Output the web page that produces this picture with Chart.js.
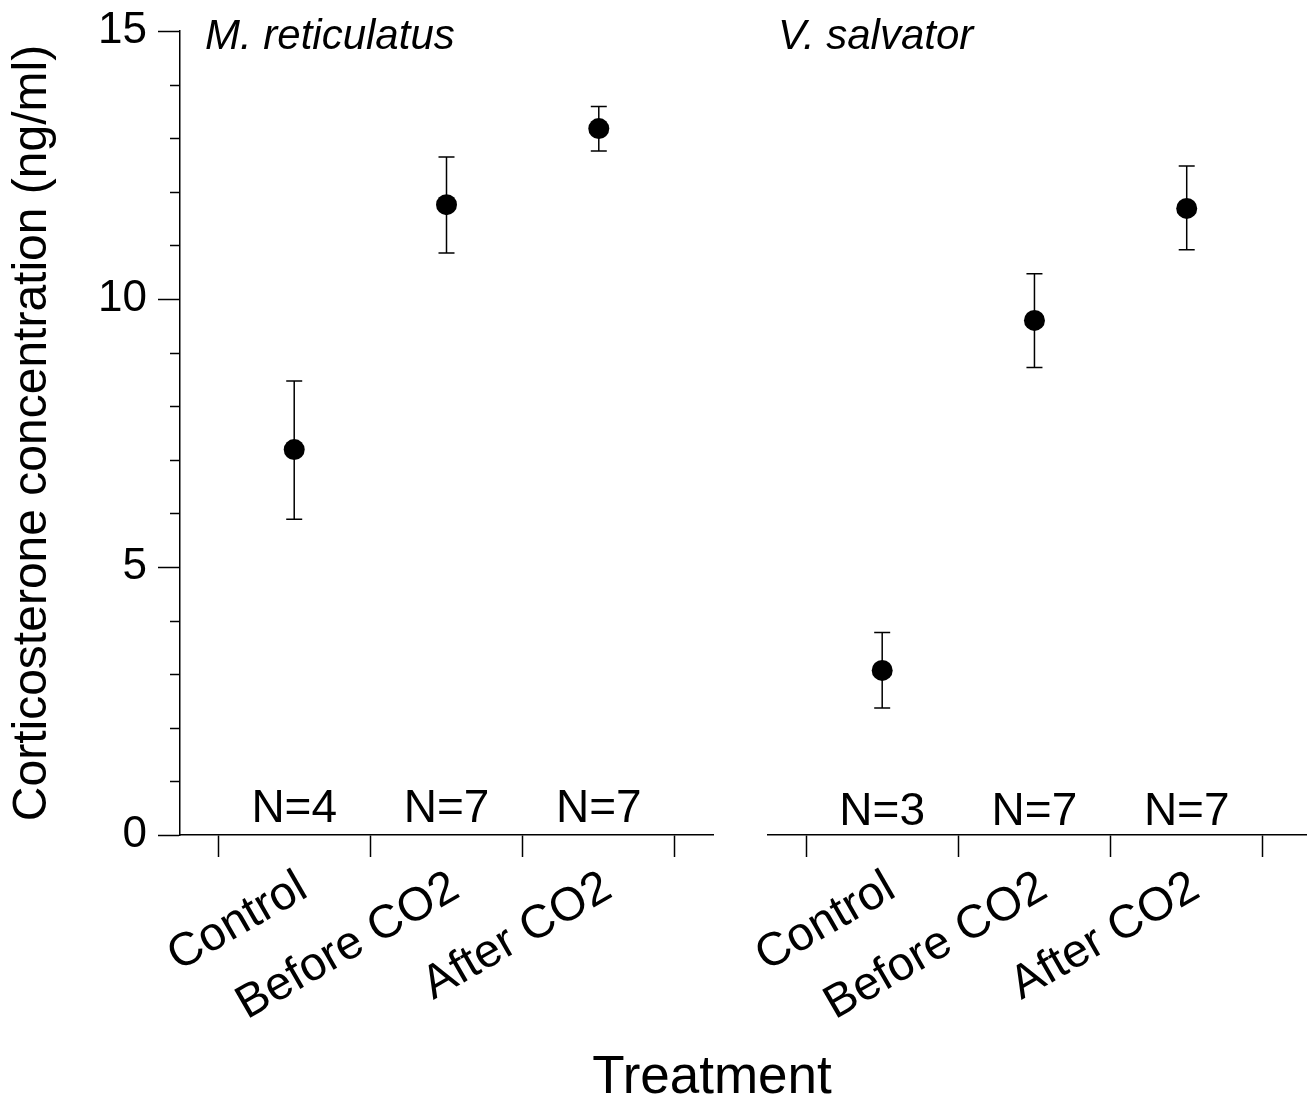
<!DOCTYPE html>
<html>
<head>
<meta charset="utf-8">
<title>Corticosterone concentration</title>
<script src="https://cdn.jsdelivr.net/npm/chart.js@4.4.1/dist/chart.umd.min.js"></script>
<style>
  html, body { margin: 0; padding: 0; background: #fff; overflow: hidden; }
  #wrap { position: relative; width: 1307px; height: 1097px; }
  canvas { position: absolute; top: 0; }
  #left { left: 0; }
  #right { left: 740px; }
  #xtitle {
    position: absolute; left: 512px; width: 400px; top: 1048px;
    text-align: center; color: #000;
    font: 53px/53px "Liberation Sans", Arial, sans-serif;
  }
</style>
</head>
<body>
<div id="wrap">
  <canvas id="left" width="740" height="1097"></canvas>
  <canvas id="right" width="567" height="1097"></canvas>
  <div id="xtitle">Treatment</div>
</div>
<script>
// данные
const categories = ['Control', 'Before CO2', 'After CO2'];
const yTickLabels = [0, 5, 10, 15];

// M. reticulatus
const mretMean = [7.19, 11.76, 13.18];
const mretHi = [8.47, 12.65, 13.59];
const mretLo = [5.89, 10.86, 12.76];
const mretN = [4, 7, 7];

// V. salvator
const vsalMean = [3.07, 9.60, 11.69];
const vsalHi = [3.78, 10.47, 12.48];
const vsalLo = [2.37, 8.72, 10.92];
const vsalN = [3, 7, 7];

const FONT = '"Liberation Sans", Arial, Helvetica, sans-serif';

// усы, малые засечки, подписи N и названия видов
const panelExtras = {
    id: 'panelExtras',
    beforeDatasetsDraw(chart, args, opts) {
        const ctx = chart.ctx;
        const x = chart.scales.x, y = chart.scales.y;
        ctx.save();
        ctx.strokeStyle = '#000';
        ctx.lineWidth = 1.5;
        opts.hi.forEach((h, i) => {
            const px = x.getPixelForValue(i + 0.5);
            const top = y.getPixelForValue(h);
            const bot = y.getPixelForValue(opts.lo[i]);
            ctx.beginPath();
            ctx.moveTo(px, top); ctx.lineTo(px, bot);
            ctx.moveTo(px - 8, top); ctx.lineTo(px + 8, top);
            ctx.moveTo(px - 8, bot); ctx.lineTo(px + 8, bot);
            ctx.stroke();
        });
        ctx.restore();
    },
    afterDraw(chart, args, opts) {
        const ctx = chart.ctx;
        const x = chart.scales.x, y = chart.scales.y;
        const area = chart.chartArea;
        ctx.save();
        ctx.strokeStyle = '#000';
        ctx.lineWidth = 1.5;
        if (opts.minorTicks) {
            for (let v = 0; v <= 15; v++) {
                if (yTickLabels.includes(v)) continue;
                const py = Math.round(y.getPixelForValue(v)) + 0.5;
                ctx.beginPath();
                ctx.moveTo(area.left - 10, py);
                ctx.lineTo(area.left, py);
                ctx.stroke();
            }
        }
        ctx.fillStyle = '#000';
        ctx.textAlign = 'center';
        ctx.textBaseline = 'alphabetic';
        ctx.font = '46px ' + FONT;
        opts.n.forEach((n, i) => {
            ctx.fillText('N=' + n, x.getPixelForValue(i + 0.5), area.bottom - opts.nLift);
        });
        ctx.textAlign = 'left';
        ctx.font = 'italic 42px ' + FONT;
        ctx.fillText(opts.name, area.left + opts.nameOffset, 49);
        ctx.restore();
    }
};

function makePanel(canvasId, cfg) {
    return new Chart(document.getElementById(canvasId), {
        type: 'scatter',
        data: {
            datasets: [{
                data: cfg.mean.map((m, i) => ({ x: i + 0.5, y: m })),
                backgroundColor: '#000',
                borderWidth: 0,
                pointRadius: 10.5,
                pointHoverRadius: 10.5
            }]
        },
        options: {
            responsive: false,
            animation: false,
            devicePixelRatio: 1,
            layout: { padding: cfg.padding, autoPadding: false },
            plugins: {
                legend: { display: false },
                tooltip: { enabled: false },
                panelExtras: {
                    hi: cfg.hi, lo: cfg.lo, n: cfg.n,
                    name: cfg.name, nameOffset: cfg.nameOffset,
                    nLift: cfg.nLift,
                    minorTicks: cfg.showY
                }
            },
            scales: {
                x: {
                    type: 'linear',
                    min: -0.25,
                    max: cfg.xMax,
                    bounds: 'data',
                    afterBuildTicks: s => { s.ticks = categories.map((c, i) => ({ value: i + 0.5 })); },
                    afterFit: s => { s.height = 262; s.paddingLeft = 0; s.paddingRight = 0; },
                    grid: { offset: true, drawOnChartArea: false, tickLength: 22, tickWidth: 1.5, tickColor: '#000' },
                    border: { color: '#000', width: 1.5 },
                    ticks: {
                        autoSkip: false,
                        minRotation: 30,
                        maxRotation: 30,
                        padding: 3,
                        labelOffset: 9,
                        color: '#000',
                        font: { size: 47, family: FONT },
                        callback: (v, i) => categories[i]
                    }
                },
                y: {
                    display: cfg.showY,
                    min: 0,
                    max: 15,
                    afterFit: s => {
                        s.width = cfg.showY ? 180 : 0;
                        s.paddingTop = 0;
                        s.paddingBottom = 0;
                    },
                    grid: {
                        drawOnChartArea: false,
                        tickLength: 22,
                        tickWidth: 1.5,
                        tickColor: c => yTickLabels.includes(c.tick.value) ? '#000' : 'rgba(0,0,0,0)'
                    },
                    border: { color: '#000', width: 1.5 },
                    ticks: {
                        stepSize: 1,
                        autoSkip: false,
                        padding: 11,
                        color: '#000',
                        font: { size: 44, family: FONT },
                        callback: v => yTickLabels.includes(v) ? String(v) : ''
                    },
                    title: {
                        display: true,
                        text: 'Corticosterone concentration (ng/ml)',
                        color: '#000',
                        padding: 4,
                        font: { size: 48, family: FONT }
                    }
                }
            }
        },
        plugins: [panelExtras]
    });
}

makePanel('left', {
    mean: mretMean, hi: mretHi, lo: mretLo, n: mretN,
    name: 'M. reticulatus', nameOffset: 25, nLift: 13,
    showY: true, xMax: 3.25,
    padding: { top: 31, right: 27, bottom: 0, left: 0 }
});

makePanel('right', {
    mean: vsalMean, hi: vsalHi, lo: vsalLo, n: vsalN,
    name: 'V. salvator', nameOffset: 10, nLift: 10,
    showY: false, xMax: 3.29,
    padding: { top: 31, right: 0, bottom: 0, left: 28 }
});
</script>
</body>
</html>
